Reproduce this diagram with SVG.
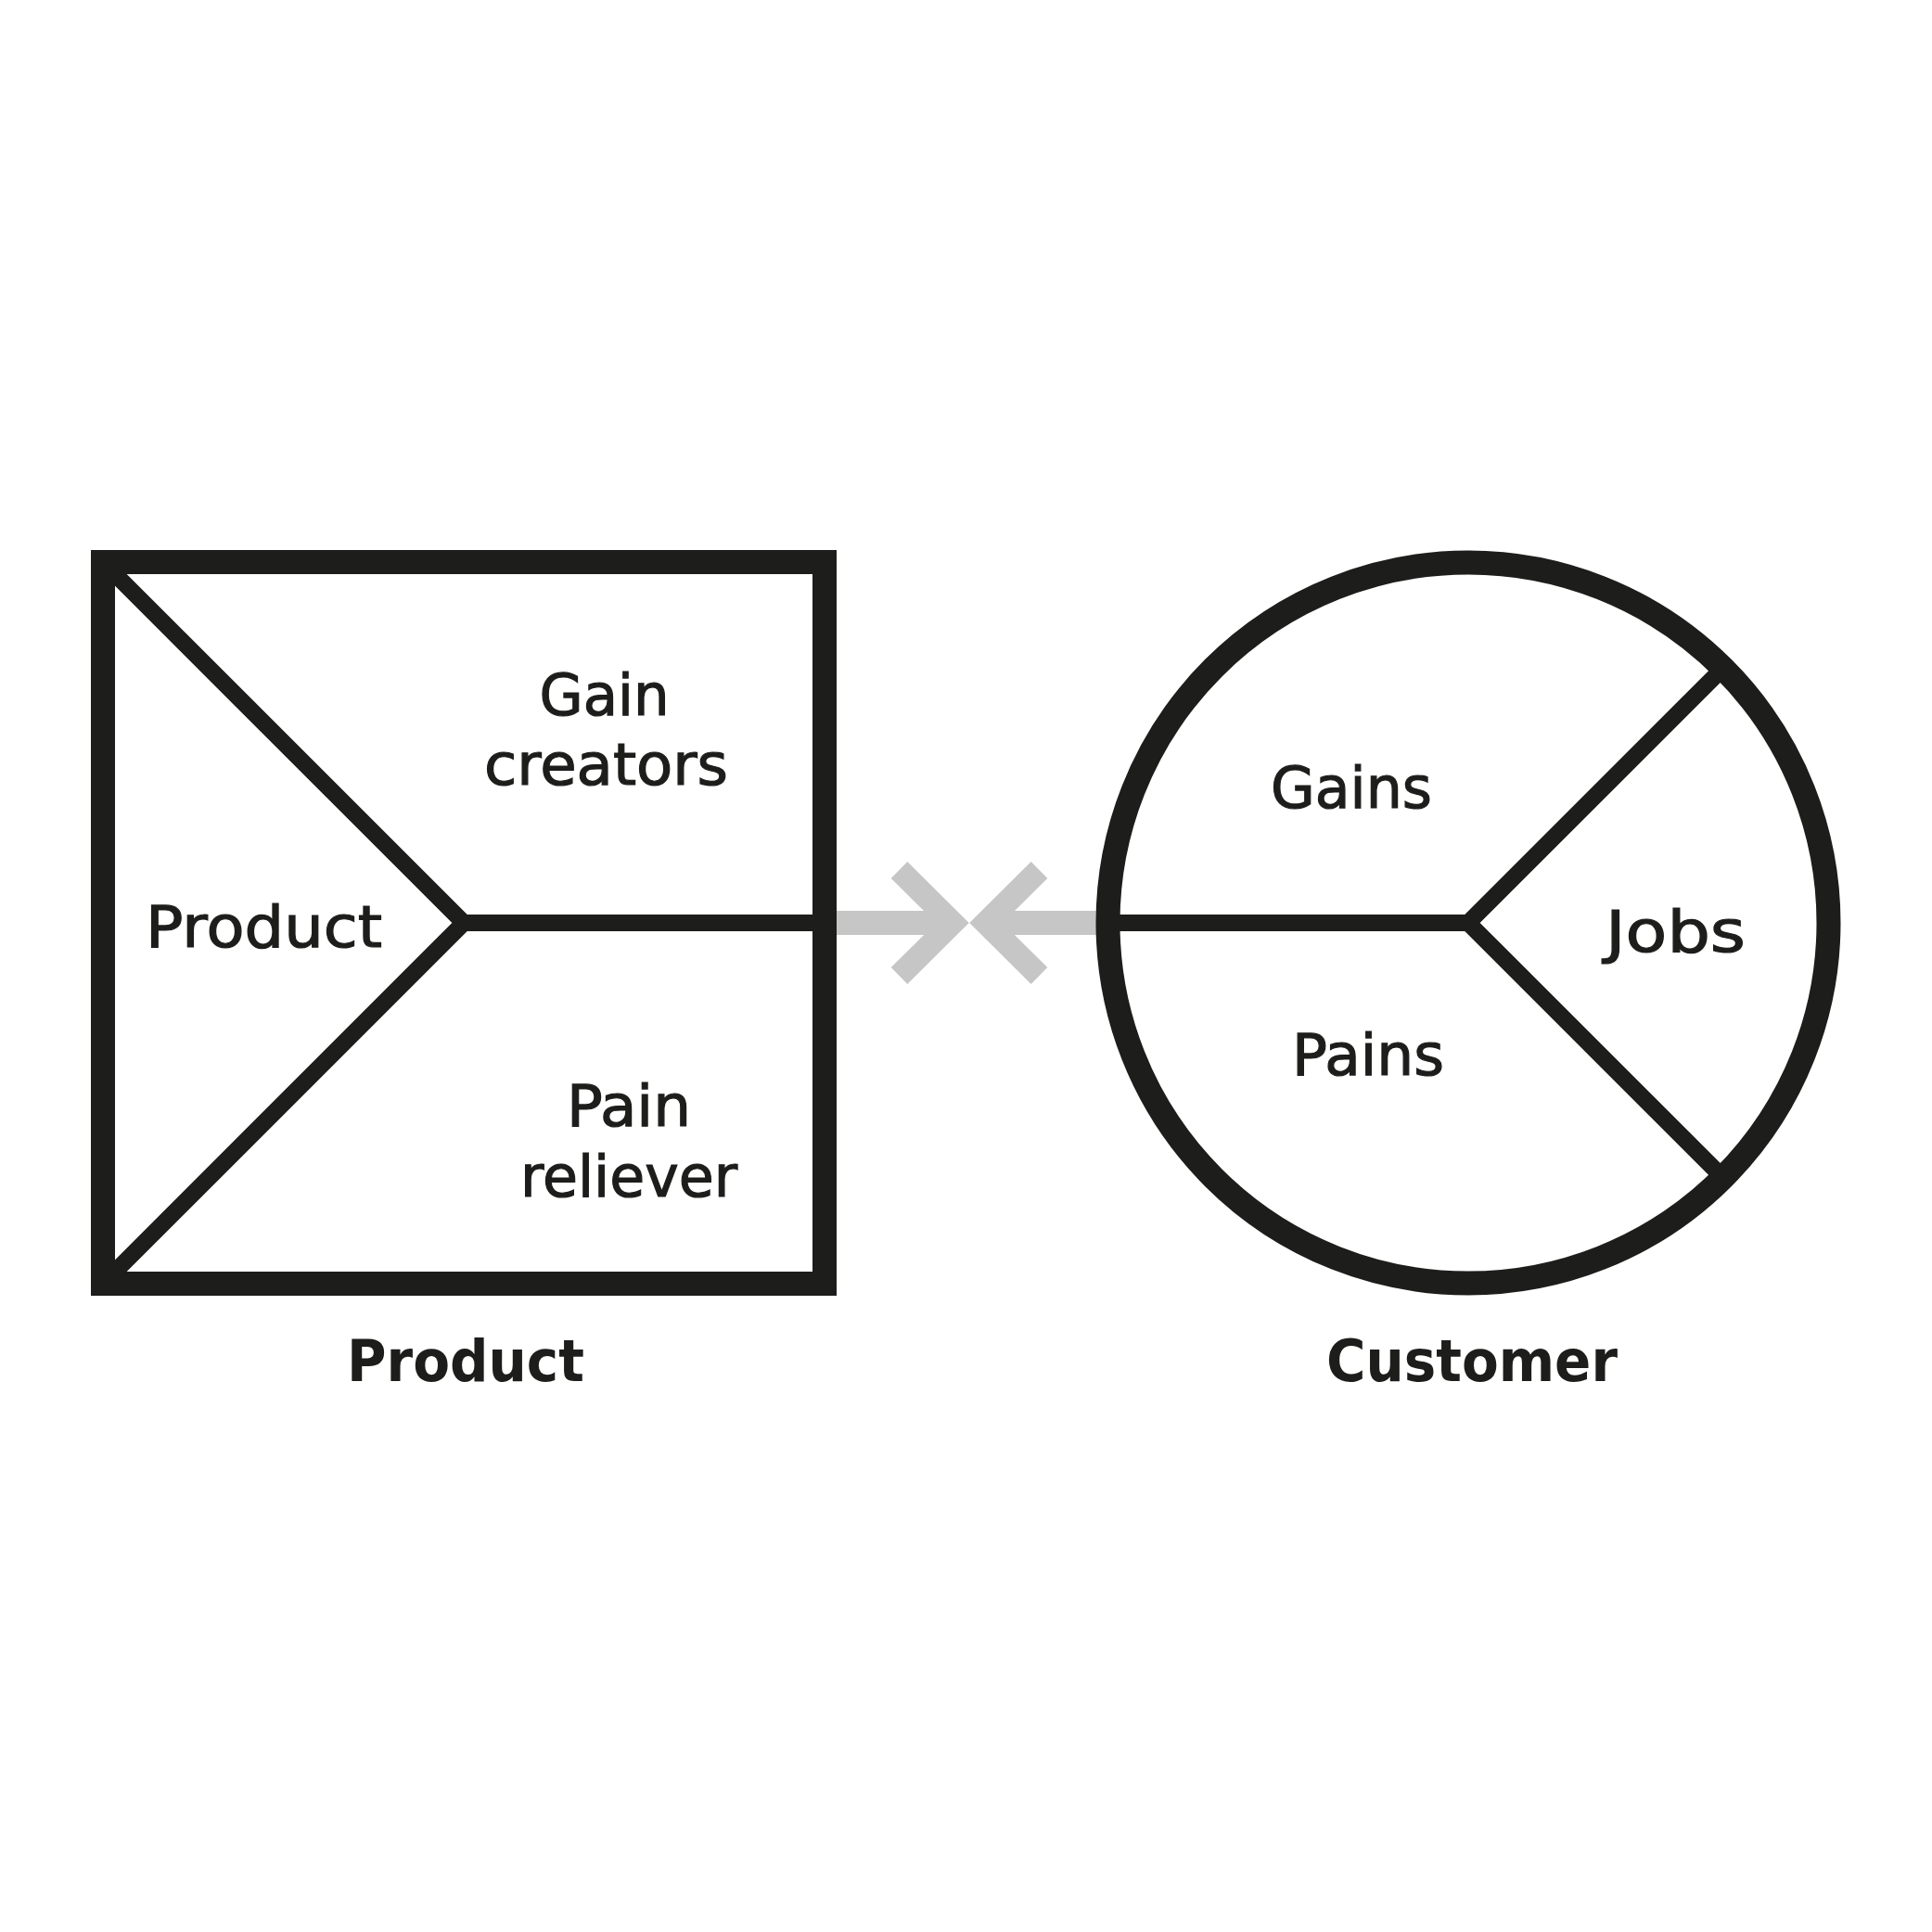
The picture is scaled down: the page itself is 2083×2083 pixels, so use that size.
<svg xmlns="http://www.w3.org/2000/svg" width="2083" height="2083" viewBox="0 0 2083 2083">
<style>
.blk{fill:none;stroke:#1d1d1b;stroke-linecap:butt;stroke-linejoin:miter}
.thick{stroke-width:26}
.thin{stroke-width:18}
.gray{fill:none;stroke:#c6c6c6;stroke-width:25;stroke-linecap:butt;stroke-linejoin:miter;stroke-miterlimit:10}
.lbl{font-family:"DejaVu Sans","Liberation Sans",sans-serif;font-size:62px;fill:#1d1d1b;stroke:#1d1d1b;stroke-width:1.2;text-anchor:middle}
.bold{font-weight:bold;stroke-width:0}
</style>
<rect width="2083" height="2083" fill="#ffffff"/>
<g id="connectors">
<line class="gray" x1="889" y1="995" x2="1030" y2="995" style="stroke-width:26"/>
<line class="gray" x1="1060" y1="995" x2="1195" y2="995" style="stroke-width:26"/>
<polyline class="gray" points="969.5,938 1027,995 969.5,1052"/>
<polyline class="gray" points="1120.5,938 1063,995 1120.5,1052"/>
</g>
<g id="product">
<rect class="blk thick" x="111" y="606" width="778" height="778"/>
<polyline class="blk thin" points="111,606 500,995 111,1384"/>
<line class="blk thin" x1="500" y1="995" x2="889" y2="995"/>
<text class="lbl" x="284.5" y="1021" textLength="255" lengthAdjust="spacingAndGlyphs">Product</text>
<text class="lbl" x="651.5" y="771" textLength="140" lengthAdjust="spacingAndGlyphs">Gain</text>
<text class="lbl" x="653.5" y="846" textLength="263" lengthAdjust="spacingAndGlyphs">creators</text>
<text class="lbl" x="678" y="1214" textLength="134" lengthAdjust="spacingAndGlyphs">Pain</text>
<text class="lbl" x="678" y="1290" textLength="234" lengthAdjust="spacingAndGlyphs">reliever</text>
<text class="lbl bold" x="502" y="1489" textLength="256" lengthAdjust="spacingAndGlyphs">Product</text>
</g>
<g id="customer">
<circle class="blk thick" cx="1583" cy="995" r="388.5"/>
<polyline class="blk thin" points="1857.7,720.3 1583,995 1857.7,1269.7"/>
<line class="blk thin" x1="1195" y1="995" x2="1583" y2="995"/>
<text class="lbl" x="1457" y="871" textLength="174" lengthAdjust="spacingAndGlyphs">Gains</text>
<text class="lbl" x="1475" y="1159" textLength="164" lengthAdjust="spacingAndGlyphs">Pains</text>
<text class="lbl" x="1806.5" y="1026" textLength="151" lengthAdjust="spacingAndGlyphs">Jobs</text>
<text class="lbl bold" x="1587" y="1489" textLength="314" lengthAdjust="spacingAndGlyphs">Customer</text>
</g>
</svg>
